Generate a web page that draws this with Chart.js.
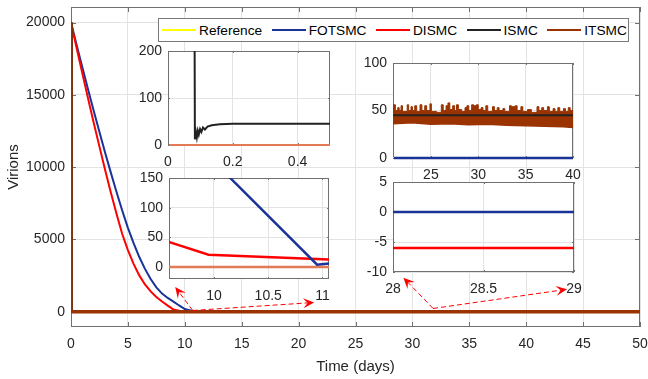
<!DOCTYPE html>
<html lang="en">
<head>
<meta charset="UTF-8" />
<title>Virions</title>
<script src="https://cdn.jsdelivr.net/npm/chart.js@4.4.1/dist/chart.umd.min.js"></script>
<style>
    html, body { margin: 0; padding: 0; background: #fff; }
    #wrap { position: relative; width: 648px; height: 379px; font-family: "Liberation Sans", Arial, sans-serif; }
    #wrap canvas { position: absolute; }
    #legend {
        position: absolute; left: 158px; top: 18px; width: 471px; height: 24px;
        box-sizing: border-box; border: 1px solid #7a7a7a; background: #fff;
        display: flex; align-items: center; font-size: 13.7px; color: #000;
        padding-left: 3px;
    }
    .item { display: flex; align-items: center; margin-right: 9.5px; }
    .swatch { width: 34px; height: 2px; margin-right: 3px; }
</style>
</head>
<body>
<div id="wrap">
    <canvas id="main" width="648" height="379" style="left:0;top:0"></canvas>
    <canvas id="in1"></canvas>
    <canvas id="in2"></canvas>
    <canvas id="in3"></canvas>
    <canvas id="in4"></canvas>
    <div id="legend"></div>
</div>
<script>
    // values (time in days, virions)
    const refT = [0, 50];
    const refV = [0, 0];
    const fotsmcT = [0, 0.5, 1, 1.5, 2, 2.5, 3, 3.5, 4, 4.5, 5, 5.5, 6, 6.5, 7, 7.5, 8, 8.5, 9, 9.5, 10,
                     10.15, 10.95, 11.06, 12, 50];
    const fotsmcV = [20000, 18440, 16900, 15380, 13890, 12430, 11000, 9620, 8280, 7000, 5800, 4740, 3780, 2960,
                     2260, 1680, 1250, 950, 690, 430, 185, 150, 4, 6, 0, 0];
    const dismcT = [0, 0.5, 1, 1.5, 2, 2.5, 3, 3.5, 4, 4.5, 5, 5.5, 6, 6.5, 7, 7.5, 8, 8.5, 9,
                    9.59, 9.95, 11.06, 14, 18, 50];
    const dismcV = [20000, 18230, 16480, 14750, 13050, 11420, 9800, 8250, 6775, 5375, 4260, 3310, 2510, 1880,
                    1400, 1020, 700, 420, 150, 42, 21, 13, 2, -6, -6];
    const ismcT = [0, 0.083, 0.086, 0.089, 0.092, 0.095, 0.099, 0.103, 0.108, 0.114, 0.122, 0.135, 0.16, 0.2, 50];
    const ismcV = [20000, 12, 28, 16, 30, 22, 34, 28, 37, 33, 39, 42, 44, 45, 45];
    const itsmcT = [0, 0, 50];
    const itsmcV = [20000, 0, 0];
    // ITSMC chattering band seen in the 21-40 day zoom (upper edge held until next time)
    const chatterT = [21.0, 21.25, 21.5, 21.65, 21.85, 22.0, 22.5, 22.65, 22.9, 23.05, 23.3, 23.5, 23.85, 24.05,
                      24.35, 24.55, 24.9, 25.05, 25.6, 26.1, 26.3, 26.6, 26.8, 27.0, 27.3, 27.5, 27.7, 27.9,
                      28.25, 28.6, 28.8, 29.0, 29.3, 29.5, 29.8, 30.0, 30.3, 30.5, 30.8, 31.0, 31.5, 31.7,
                      32.0, 32.2, 32.6, 32.8, 33.3, 33.5, 33.9, 34.1, 34.5, 34.7, 35.2, 35.6, 36.2, 36.4,
                      36.7, 36.9, 37.3, 37.5, 37.9, 38.1, 38.4, 38.6, 39.0, 39.2, 39.5, 39.7, 40.0];
    const chatterHigh = [56, 50, 53, 50, 55, 49, 56, 50, 54, 50, 55, 49, 56, 50,
                         55, 50, 57, 49, 48, 56, 50, 55, 58, 51, 55, 50, 56, 51,
                         49, 53, 55, 50, 56, 55, 56, 51, 53, 50, 55, 49, 54, 50,
                         53, 50, 52, 49, 55, 54, 55, 50, 54, 49, 51, 48, 54, 50,
                         53, 50, 54, 49, 52, 49, 53, 49, 52, 49, 53, 50, 50];
    const chatterLowT = [21, 23, 25, 27, 29, 31, 33, 35, 37, 39, 40];
    const chatterLow = [36, 37, 35.5, 36, 35, 35.5, 34.5, 34, 33.5, 33, 32];

    const names = ['Reference', 'FOTSMC', 'DISMC', 'ISMC', 'ITSMC'];
    const colors = ['#ffff00', '#1a3399', '#ff0000', '#222222', '#9a3300'];
    const zeroLineColor = '#e27a55';

    const mainXTicks = [0, 5, 10, 15, 20, 25, 30, 35, 40, 45, 50];
    const mainYTicks = [0, 5000, 10000, 15000, 20000];
    const in1XTicks = [0, 0.2, 0.4], in1YTicks = [0, 100, 200];
    const in2XTicks = [10, 10.5, 11], in2YTicks = [0, 50, 100, 150];
    const in3XTicks = [25, 30, 35, 40], in3YTicks = [0, 50, 100];
    const in4XTicks = [28, 28.5, 29], in4YTicks = [-10, -5, 0, 5];

    // dashed arrows from the curve to the zoomed windows (data coords of main axes)
    const arrowFromT = [10.70, 10.70, 31.82, 31.82];
    const arrowFromV = [83, 83, 221, 221];
    const arrowToT = [9.16, 21.37, 29.21, 43.59];
    const arrowToV = [1709, 637, 2353, 1550];

    Chart.defaults.font.family = '"Liberation Sans", Arial, sans-serif';
    Chart.defaults.color = '#262626';

    const pts = (t, v) => t.map((x, i) => ({ x: x, y: v[i] }));

    function line(label, t, v, color, width, extra) {
        return Object.assign({
            label: label, data: pts(t, v), borderColor: color, backgroundColor: color,
            borderWidth: width, pointRadius: 0, tension: 0, fill: false, clip: 0
        }, extra || {});
    }

    // gap between label and axis is done with an invisible tick mark so it does not pad the plot top
    function axis(min, max, ticks, fit, gap, title, titlePad) {
        return {
            type: 'linear', min: min, max: max,
            afterBuildTicks: s => { s.ticks = ticks.map(v => ({ value: v })); },
            afterFit: fit,
            grid: { color: '#e3e3e3', drawTicks: true, tickLength: gap, tickColor: 'rgba(0,0,0,0)' },
            border: { display: false },
            ticks: { padding: 0, autoSkip: false, maxRotation: 0,
                     font: { size: 14, lineHeight: 1 }, color: '#262626',
                     callback: v => String(v) },
            title: title ? { display: true, text: title, font: { size: 15 }, color: '#262626', padding: titlePad } : { display: false }
        };
    }

    function drawBox(chart, L) {
        const { ctx, chartArea: a, scales: { x, y } } = chart;
        ctx.save();
        ctx.strokeStyle = '#707070';
        ctx.lineWidth = 1;
        ctx.strokeRect(Math.round(a.left) + 0.5, Math.round(a.top) + 0.5,
                       Math.round(a.width) - 1, Math.round(a.height) - 1);
        ctx.beginPath();
        x.ticks.forEach(t => {
            const p = Math.round(x.getPixelForValue(t.value)) + 0.5;
            ctx.moveTo(p, a.bottom); ctx.lineTo(p, a.bottom - L);
            ctx.moveTo(p, a.top); ctx.lineTo(p, a.top + L);
        });
        y.ticks.forEach(t => {
            const p = Math.round(y.getPixelForValue(t.value)) + 0.5;
            ctx.moveTo(a.left, p); ctx.lineTo(a.left + L, p);
            ctx.moveTo(a.right, p); ctx.lineTo(a.right - L, p);
        });
        ctx.stroke();
        ctx.restore();
    }

    const boxPlugin = {
        id: 'box',
        beforeDraw(chart, args, opts) {
            if (!opts.fill) return;
            const a = chart.chartArea, ctx = chart.ctx;
            ctx.save();
            ctx.fillStyle = '#fff';
            ctx.fillRect(a.left, a.top, a.width, a.height);
            ctx.restore();
        },
        beforeDatasetsDraw(chart, args, opts) { drawBox(chart, opts.tick); }
    };

    function drawArrow(ctx, x0, y0, x1, y1) {
        const ang = Math.atan2(y1 - y0, x1 - x0);
        const L = 11, W = 5;
        ctx.save();
        ctx.strokeStyle = '#ff0000';
        ctx.fillStyle = '#ff0000';
        ctx.lineWidth = 1;
        ctx.setLineDash([5, 3]);
        ctx.beginPath();
        ctx.moveTo(x0, y0);
        ctx.lineTo(x1 - Math.cos(ang) * L * 0.6, y1 - Math.sin(ang) * L * 0.6);
        ctx.stroke();
        ctx.setLineDash([]);
        ctx.translate(x1, y1);
        ctx.rotate(ang);
        ctx.beginPath();
        ctx.moveTo(0, 0);
        ctx.lineTo(-L, -W);
        ctx.lineTo(-L * 0.6, 0);
        ctx.lineTo(-L, W);
        ctx.closePath();
        ctx.fill();
        ctx.restore();
    }

    const arrowPlugin = {
        id: 'arrows',
        afterDatasetsDraw(chart) {
            const { ctx, scales: { x, y } } = chart;
            arrowFromT.forEach((t, i) => {
                drawArrow(ctx, x.getPixelForValue(t), y.getPixelForValue(arrowFromV[i]),
                          x.getPixelForValue(arrowToT[i]), y.getPixelForValue(arrowToV[i]));
            });
        }
    };

    const baseOptions = (xAx, yAx, pad, box) => ({
        responsive: false, animation: false, events: [],
        layout: { padding: pad },
        scales: { x: xAx, y: yAx },
        plugins: { legend: { display: false }, tooltip: { enabled: false }, box: box }
    });

    // main axes
    new Chart(document.getElementById('main'), {
        type: 'line',
        data: { datasets: [
            line(names[4], itsmcT, itsmcV, colors[4], 3.5),
            line(names[3], ismcT, ismcV, colors[3], 2),
            line(names[2], dismcT, dismcV, colors[2], 2),
            line(names[1], fotsmcT, fotsmcV, colors[1], 2),
            line(names[0], refT, refV, colors[0], 2.5)
        ] },
        options: baseOptions(
            axis(0, 50, mainXTicks, s => { s.height = 52; }, 10, 'Time (days)', { top: 0, bottom: 3 }),
            axis(-1060, 21080, mainYTicks, s => { s.width = 71; }, 6, 'Virions', { top: 5, bottom: 0 }),
            { top: 7, right: 8, left: 0, bottom: 0 },
            { fill: false, tick: 5 }),
        plugins: [boxPlugin, arrowPlugin]
    });

    // zoomed windows: plot box position on the page
    function inset(id, box, xr, xt, yr, yt, datasets) {
        const cv = document.getElementById(id);
        cv.width = box.r - box.l + 55;
        cv.height = box.b - box.t + 36;
        cv.style.left = (box.l - 45) + 'px';
        cv.style.top = (box.t - 8) + 'px';
        new Chart(cv, {
            type: 'line',
            data: { datasets: datasets },
            options: baseOptions(
                axis(xr[0], xr[1], xt, s => { s.height = 28; }, 10),
                axis(yr[0], yr[1], yt, s => { s.width = 45; }, 6),
                { top: 8, right: 10, left: 0, bottom: 0 },
                { fill: true, tick: 2 }),
            plugins: [boxPlugin]
        });
    }

    // lines lying on the bottom edge may spill over it, as in the figure
    const onFloor = { clip: { left: -1, top: 0, right: 0, bottom: 2 } };

    inset('in1', { l: 168, t: 51, r: 330, b: 145 }, [0, 0.5], in1XTicks, [0, 200], in1YTicks, [
        line(names[3], ismcT, ismcV, colors[3], 2),
        line(names[4], itsmcT, itsmcV, zeroLineColor, 2, onFloor),
        line(names[2], dismcT, dismcV, colors[2], 2),
        line(names[1], fotsmcT, fotsmcV, colors[1], 2),
        line(names[0], refT, refV, colors[0], 1.5, { clip: { left: -1, top: 0, right: 0, bottom: 0 } })
    ]);

    inset('in2', { l: 169, t: 178, r: 329, b: 279 }, [9.586, 11.06], in2XTicks, [-20, 150], in2YTicks, [
        line(names[1], fotsmcT, fotsmcV, colors[1], 2.5),
        line(names[2], dismcT, dismcV, colors[2], 2.5),
        line(names[4], itsmcT, itsmcV, zeroLineColor, 2.5),
        line(names[0], refT, refV, colors[0], 1.5)
    ]);

    inset('in3', { l: 393, t: 63, r: 573, b: 158 }, [21, 40], in3XTicks, [0, 100], in3YTicks, [
        line(names[3], ismcT, ismcV, colors[3], 2),
        line(names[1], fotsmcT, fotsmcV, colors[1], 2.5, onFloor),
        line(names[4], chatterT, chatterHigh, colors[4], 1, { stepped: true, fill: '+1' }),
        line(names[4], chatterLowT, chatterLow, colors[4], 1.5),
        line(names[0], refT, refV, colors[0], 1.5)
    ]);

    inset('in4', { l: 393, t: 182, r: 574, b: 272 }, [28, 29], in4XTicks, [-10, 5], in4YTicks, [
        line(names[1], fotsmcT, fotsmcV, colors[1], 2.5),
        line(names[2], dismcT, dismcV, colors[2], 2.5),
        line(names[0], refT, refV, colors[0], 1.5)
    ]);

    // legend box across the top
    const legend = document.getElementById('legend');
    names.forEach((n, i) => {
        const item = document.createElement('div');
        item.className = 'item';
        item.innerHTML = `<div class="swatch" style="background:${colors[i]}"></div><span>${n}</span>`;
        legend.appendChild(item);
    });
</script>
</body>
</html>
